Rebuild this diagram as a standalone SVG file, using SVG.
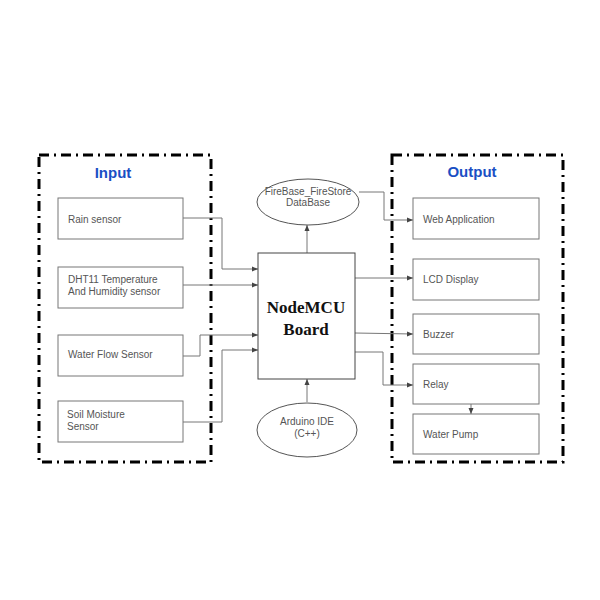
<svg xmlns="http://www.w3.org/2000/svg" width="600" height="600" viewBox="0 0 600 600">
<defs>
<marker id="arr" viewBox="0 0 6 6" refX="6" refY="3" markerWidth="6" markerHeight="6" orient="auto" markerUnits="userSpaceOnUse">
<path d="M0,0.5 L6,3 L0,5.5 z" fill="#444"/>
</marker>
</defs>
<style>
.grp{fill:none;stroke:#000;stroke-width:3;stroke-dasharray:10 5 2 5}
.box{fill:#fff;stroke:#777;stroke-width:1}
.ell{fill:#fff;stroke:#555;stroke-width:1}
.t{font-family:"Liberation Sans",Arial,sans-serif;font-size:10px;fill:#555}
.tc{font-family:"Liberation Sans",Arial,sans-serif;font-size:10px;fill:#555;text-anchor:middle}
.title{font-family:"Liberation Sans",Arial,sans-serif;font-size:15px;font-weight:bold;fill:#1a4fc4;text-anchor:middle}
.c{fill:none;stroke:#777;stroke-width:1;marker-end:url(#arr)}
</style>
<rect width="600" height="600" fill="#fff"/>
<g id="input-group">
<rect class="grp" x="39" y="155" width="172" height="307"/>
<text class="title" x="113" y="178">Input</text>
</g>
<g id="output-group">
<rect class="grp" x="392" y="155" width="171" height="307"/>
<text class="title" x="472" y="177">Output</text>
</g>
<g id="connectors">
<polyline class="c" points="183,218 222,218 222,269 258,269"/>
<polyline class="c" points="183,285 258,285"/>
<polyline class="c" points="183,356 200,356 200,335 258,335"/>
<polyline class="c" points="183,422 222,422 222,350 258,350"/>
<polyline class="c" points="307,253 307,225"/>
<polyline class="c" points="307,402 307,379"/>
<polyline class="c" points="359,192 384,192 384,220 413,220"/>
<polyline class="c" points="355,278 413,278"/>
<polyline class="c" points="355,333 413,334"/>
<polyline class="c" points="355,352 383,352 383,385 413,385"/>
<polyline class="c" points="471,404 471,414"/>
</g>
<g id="rain">
<rect class="box" x="58" y="198" width="125" height="41"/>
<text class="t" x="68" y="223">Rain sensor</text>
</g>
<g id="dht11">
<rect class="box" x="58" y="267" width="125" height="41"/>
<text class="t" x="68" y="283">DHT11 Temperature</text>
<text class="t" x="68" y="295">And Humidity sensor</text>
</g>
<g id="waterflow">
<rect class="box" x="58" y="335" width="125" height="41"/>
<text class="t" x="68" y="358">Water Flow Sensor</text>
</g>
<g id="soil">
<rect class="box" x="58" y="401" width="125" height="41"/>
<text class="t" x="67" y="418">Soil Moisture</text>
<text class="t" x="67" y="430">Sensor</text>
</g>
<g id="nodemcu">
<rect x="258" y="253" width="97" height="126" fill="#fff" stroke="#444" stroke-width="1"/>
<text x="306" y="313" font-family="'Liberation Serif','Times New Roman',serif" font-size="17" font-weight="bold" text-anchor="middle" fill="#111">NodeMCU</text>
<text x="306" y="335" font-family="'Liberation Serif','Times New Roman',serif" font-size="17" font-weight="bold" text-anchor="middle" fill="#111">Board</text>
</g>
<g id="firebase">
<ellipse class="ell" cx="308" cy="202" rx="51" ry="23"/>
<text class="tc" x="308" y="195">FireBase_FireStore</text>
<text class="tc" x="308" y="206">DataBase</text>
</g>
<g id="arduino">
<ellipse class="ell" cx="307" cy="430" rx="50" ry="27"/>
<text class="tc" x="307" y="425">Arduino IDE</text>
<text class="tc" x="307" y="437">(C++)</text>
</g>
<g id="webapp">
<rect class="box" x="413" y="198" width="126" height="41"/>
<text class="t" x="423" y="223">Web Application</text>
</g>
<g id="lcd">
<rect class="box" x="413" y="259" width="126" height="41"/>
<text class="t" x="423" y="283">LCD Display</text>
</g>
<g id="buzzer">
<rect class="box" x="413" y="314" width="126" height="40"/>
<text class="t" x="423" y="338">Buzzer</text>
</g>
<g id="relay">
<rect class="box" x="413" y="364" width="126" height="40"/>
<text class="t" x="423" y="388">Relay</text>
</g>
<g id="pump">
<rect class="box" x="413" y="414" width="126" height="40"/>
<text class="t" x="423" y="438">Water Pump</text>
</g>
</svg>
